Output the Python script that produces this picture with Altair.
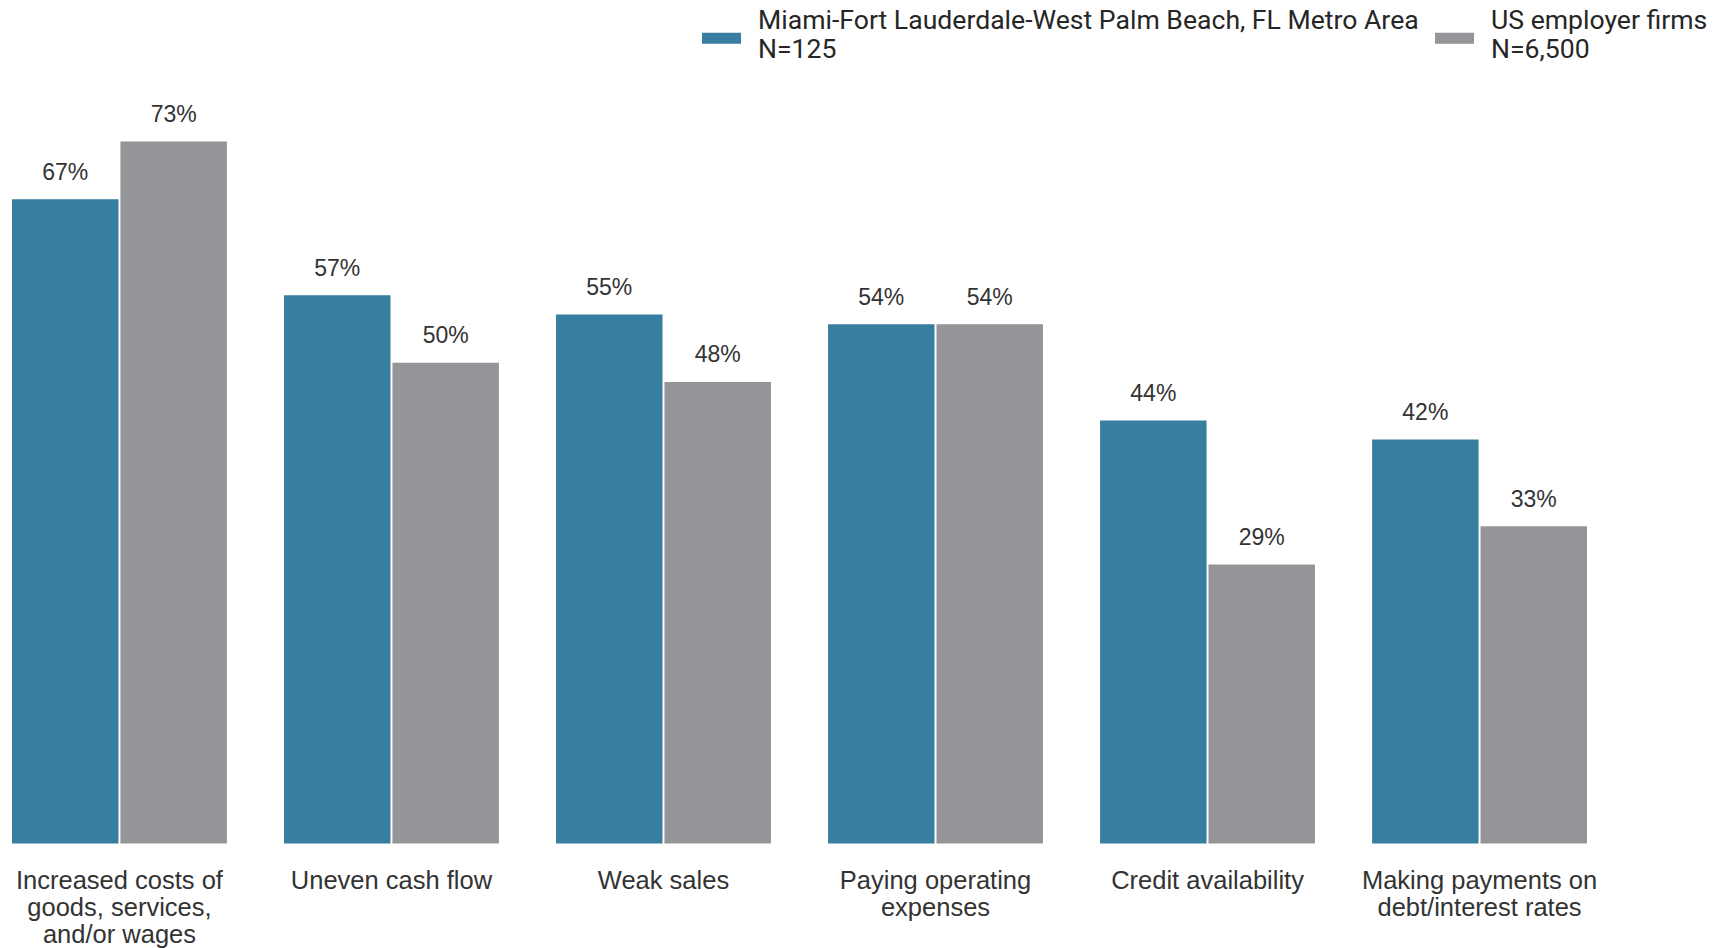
import altair as alt
import pandas as pd

categories = [
    "Increased costs of|goods, services,|and/or wages",
    "Uneven cash flow",
    "Weak sales",
    "Paying operating|expenses",
    "Credit availability",
    "Making payments on|debt/interest rates",
]
series = [
    "Miami-Fort Lauderdale-West Palm Beach, FL Metro Area|N=125",
    "US employer firms|N=6,500",
]
miami_values = [67, 57, 55, 54, 44, 42]
us_values = [73, 50, 48, 54, 29, 33]
colors = ["#387ea0", "#939598"]

rows = []
for c, m, u in zip(categories, miami_values, us_values):
    rows.append({"category": c, "series": series[0], "value": m})
    rows.append({"category": c, "series": series[1], "value": u})
df = pd.DataFrame(rows)
df["label"] = df["value"].astype(str) + "%"

x_enc = alt.X(
    "category:N",
    sort=categories,
    title=None,
    scale=alt.Scale(paddingInner=0.21, paddingOuter=0),
    axis=alt.Axis(
        labelExpr="split(datum.label, '|')",
        labelAngle=0,
        labelFont="Liberation Sans",
        labelFontSize=25.5,
        labelLineHeight=27,
        labelColor="#333333",
        labelPadding=25,
        labelBaseline="top",
        ticks=False,
        tickSize=0,
        domain=False,
        grid=False,
        labelLimit=400,
    ),
)
xoff = alt.XOffset("series:N", sort=series, scale=alt.Scale(paddingInner=0.018))
y_enc = alt.Y(
    "value:Q",
    scale=alt.Scale(domain=[0, 73], nice=False, zero=True),
    axis=None,
)

bars = alt.Chart(df).mark_bar().encode(
    x=x_enc,
    xOffset=xoff,
    y=y_enc,
    color=alt.Color(
        "series:N",
        sort=series,
        scale=alt.Scale(domain=series, range=colors),
        legend=alt.Legend(
            title=None,
            orient="none",
            direction="horizontal",
            legendX=690,
            legendY=-125,
            labelExpr="split(datum.label, '|')",
            labelFont="Roboto",
            labelFontSize=26.6,
            labelBaseline="line-bottom",
            labelColor="#262626",
            labelLimit=800,
            labelOffset=17,
            columnPadding=16,
            symbolType="M-1,-0.17H1V0.39H-1Z",
            symbolSize=1521,
            symbolStrokeWidth=0,
            symbolOpacity=1,
            padding=0,
        ),
    ),
)

labels = alt.Chart(df).mark_text(
    baseline="alphabetic",
    dy=-19.5,
    font="Liberation Sans",
    fontSize=23,
    color="#333333",
).encode(
    x=alt.X("category:N", sort=categories),
    xOffset=alt.XOffset("series:N", sort=series),
    y=alt.Y("value:Q"),
    text="label:N",
)

chart = (
    alt.layer(bars, labels)
    .properties(
        width=1575,
        height=702,
        padding={"left": 4, "top": 8.5, "right": 5, "bottom": 0},
    )
    .configure_view(stroke=None)
)

chart.save("out.html", embed_options={"renderer": "svg", "actions": False})
